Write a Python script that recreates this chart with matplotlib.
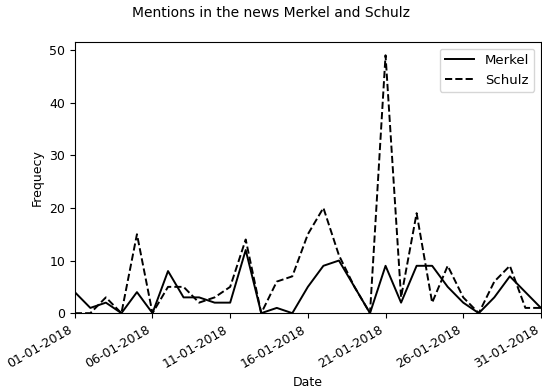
import matplotlib
matplotlib.use("Agg")
import matplotlib.pyplot as plt
import matplotlib.dates as mdates
import pandas as pd

# daily mention counts, January 2018
days = pd.date_range("2018-01-01", "2018-01-31", freq="D")
merkel = [4, 1, 2, 0, 4, 0, 8, 3, 3, 2, 2, 12, 0, 1, 0,
          5, 9, 10, 5, 0, 9, 2, 9, 9, 5, 2, 0, 3, 7, 4, 1]
schulz = [0, 0, 3, 0, 15, 0, 5, 5, 2, 3, 5, 14, 0, 6, 7,
          15, 20, 11, 5, 0, 49, 3, 19, 2, 9, 3, 0, 6, 9, 1, 1]

fig = plt.figure(figsize=(5.42, 3.9), dpi=100)
ax = fig.add_axes([0.138, 0.197, 0.86, 0.695])

ax.plot(days, merkel, color="black", linestyle="-", linewidth=1.4, label="Merkel")
ax.plot(days, schulz, color="black", linestyle="--", linewidth=1.4, label="Schulz")

ax.set_xlim(days[0], days[-1])
ax.set_ylim(0, 51.5)
ax.xaxis.set_major_locator(mdates.DayLocator(bymonthday=[1, 6, 11, 16, 21, 26, 31]))
ax.xaxis.set_major_formatter(mdates.DateFormatter("%d-%m-%Y"))
plt.setp(ax.get_xticklabels(), rotation=30, ha="right", fontsize=9)
plt.setp(ax.get_yticklabels(), fontsize=9)

fig.suptitle("Mentions in the news Merkel and Schulz", fontsize=10, y=0.985)
ax.set_xlabel("Date", fontsize=9)
ax.set_ylabel("Frequecy", fontsize=9)
ax.legend(loc="upper right", fontsize=9.5, handlelength=2.2)

fig.savefig("out.png", dpi=100)
